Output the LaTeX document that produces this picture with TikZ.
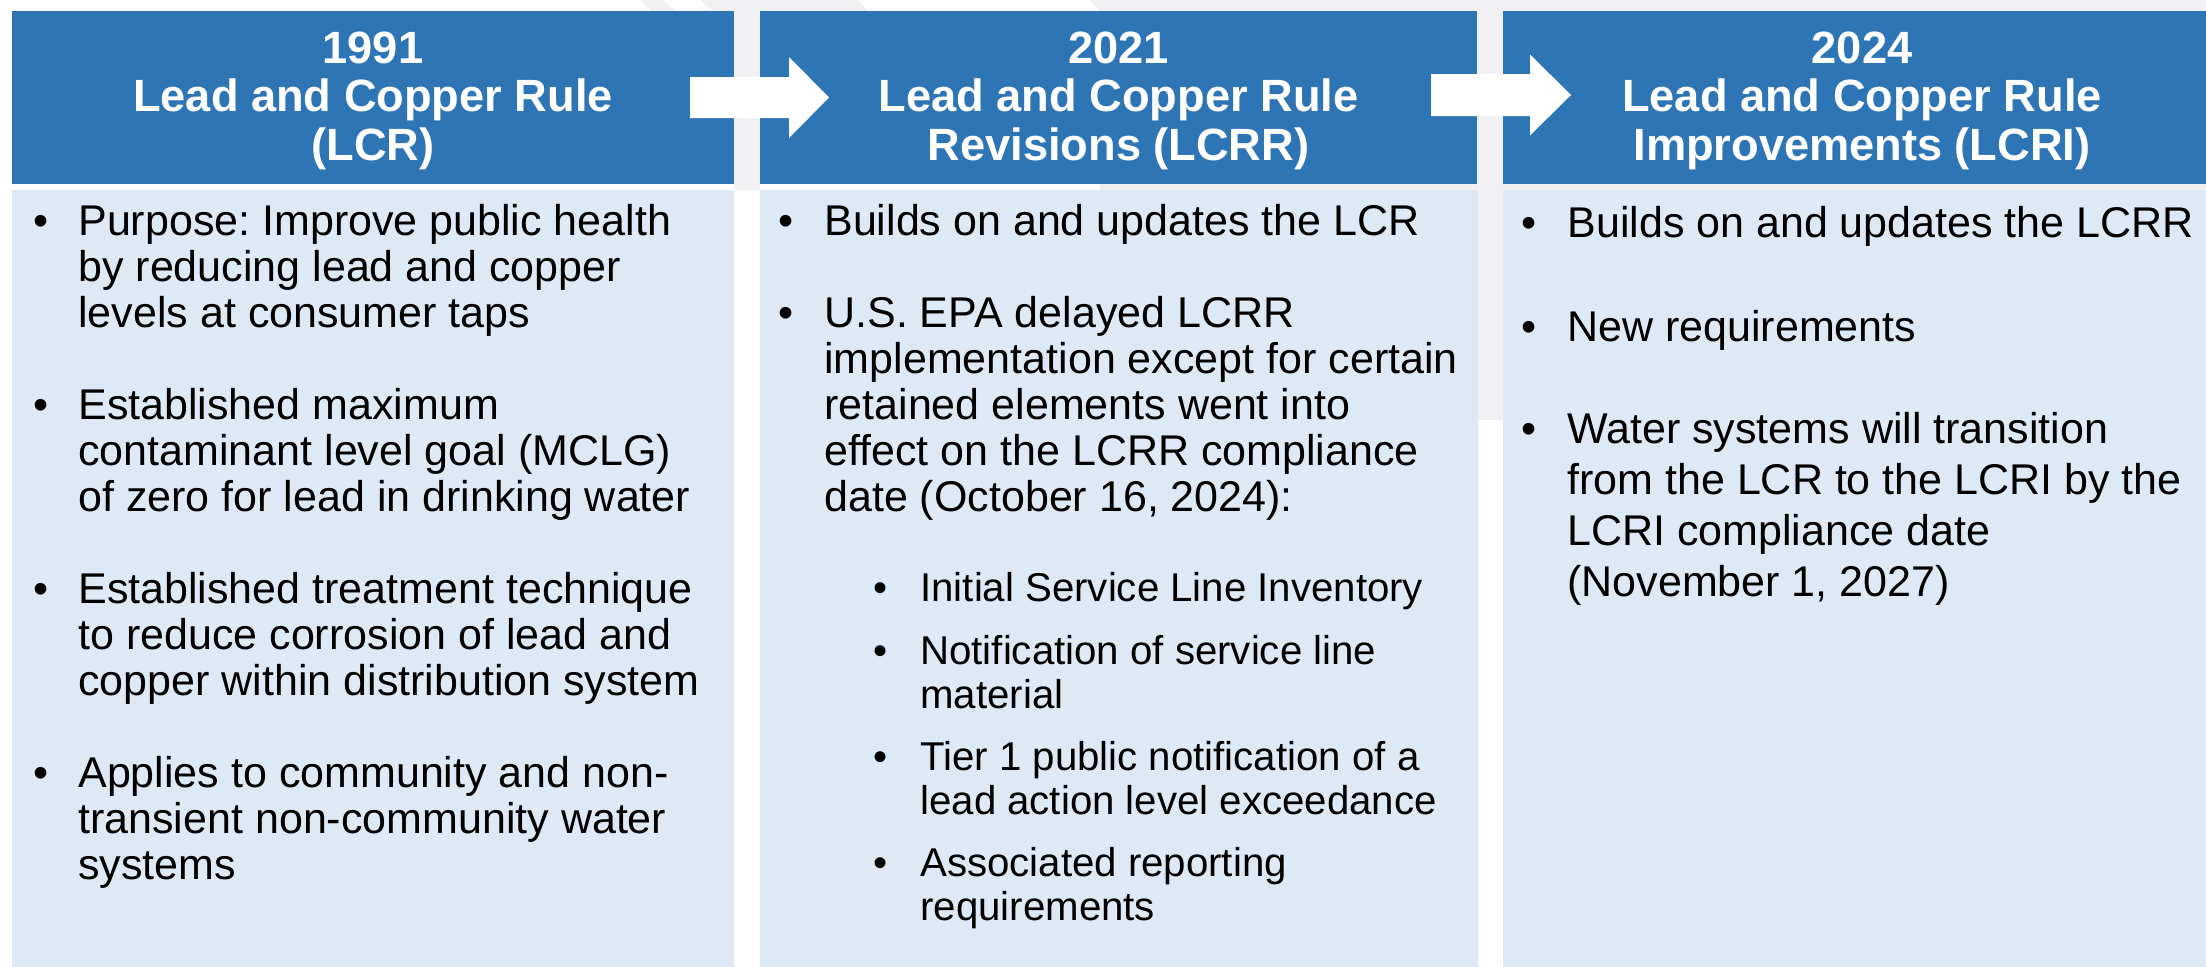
\documentclass[tikz,border=0pt]{standalone}
\usepackage{fontspec}
\setmainfont{Liberation Sans}
\frenchspacing
\definecolor{hdrblue}{HTML}{2E75B6}
\definecolor{bodyblue}{HTML}{DDE9F5}
\definecolor{wmgray}{HTML}{F1F1F3}
\tikzset{
  hdrbox/.style={fill=hdrblue, draw=none, inner sep=0pt, anchor=north west, minimum height=86.5pt},
  bodybox/.style={fill=bodyblue, draw=none, inner sep=0pt, anchor=north west, minimum height=395pt},
  hdrtext/.style={inner sep=0pt, anchor=base, text=white, font=\fontsize{22.6}{24.25}\selectfont\bfseries},
  bodytext/.style={inner sep=0pt, anchor=base west, text=black, font=\fontsize{21.5}{23}\selectfont},
  subtext/.style={inner sep=0pt, anchor=base west, text=black, font=\fontsize{20.1}{22.25}\selectfont},
  bulmark/.style={inner sep=0pt, anchor=base, text=black, font=\fontsize{21.5}{23}\selectfont},
  subbulmark/.style={inner sep=0pt, anchor=base, text=black, font=\fontsize{20.1}{22.25}\selectfont},
  blockarrow/.style={fill=white, draw=none}
}
\newcommand\lines[1]{\parbox[t]{330pt}{\raggedright #1}}
\begin{document}
\begin{tikzpicture}[x=0.5pt,y=-0.5pt]
\useasboundingbox (0,0) rectangle (2206,966);
\fill[white] (0,0) rectangle (2206,966);
% faint background watermark
\fill[wmgray] (640,0) -- (662,0) -- (676,11) -- (652,11) -- cycle;
\fill[wmgray] (700,0) -- (858,0) -- (868,11) -- (712,11) -- cycle;
\fill[wmgray] (1090,0) -- (2206,0) -- (2206,11) -- (1100,11) -- cycle;
\fill[wmgray] (1477,0) rectangle (1503,420);
\fill[wmgray] (734,0) rectangle (760,190);
\fill[wmgray] (1100,184) rectangle (2206,190);

% column boxes
\node[hdrbox, minimum width=361pt] (h1) at (12,11) {};
\node[hdrbox, minimum width=358.5pt] (h2) at (760,11) {};
\node[hdrbox, minimum width=359pt] (h3) at (1503,11) {};
\node[bodybox, minimum width=361pt] (b1) at (12,190) {};
\node[bodybox, minimum width=359pt] (b2) at (760,190) {};
\node[bodybox, minimum width=359pt] (b3) at (1503,190) {};

% header texts
\node[hdrtext] (t1) at (373,63) {\parbox[t]{340pt}{\centering 1991\\Lead and Copper Rule\\(LCR)}};
\node[hdrtext] (t2) at (1118.5,63) {\parbox[t]{340pt}{\centering 2021\\Lead and Copper Rule\\Revisions (LCRR)}};
\node[hdrtext] (t3) at (1862,63) {\parbox[t]{340pt}{\centering 2024\\Lead and Copper Rule\\Improvements (LCRI)}};

% block arrows between headers
\coordinate (a1) at (690,97.5);
\coordinate (a2) at (1431,95);
\fill[blockarrow] (a1) ++(0,-20.5) -- ++(99,0) -- ++(0,-20) -- ++(40,40.5) -- ++(-40,40.5) -- ++(0,-20) -- ++(-99,0) -- cycle;
\fill[blockarrow] (a2) ++(0,-21) -- ++(99,0) -- ++(0,-19.5) -- ++(41,40.5) -- ++(-41,40.5) -- ++(0,-19.5) -- ++(-99,0) -- cycle;

% column 1
\node[bulmark] (c1ab) at (41,235) {•};
\node[bodytext] (c1a) at (78,235) {\lines{Purpose: Improve public health\\by reducing lead and copper\\levels at consumer taps}};
\node[bulmark] (c1bb) at (41,419) {•};
\node[bodytext] (c1b) at (78,419) {\lines{Established maximum\\contaminant level goal (MCLG)\\of zero for lead in drinking water}};
\node[bulmark] (c1cb) at (41,603) {•};
\node[bodytext] (c1c) at (78,603) {\lines{Established treatment technique\\to reduce corrosion of lead and\\copper within distribution system}};
\node[bulmark] (c1db) at (41,787) {•};
\node[bodytext] (c1d) at (78,787) {\lines{Applies to community and non-\\transient non-community water\\systems}};

% column 2
\node[bulmark] (c2ab) at (786,235) {•};
\node[bodytext] (c2a) at (824,235) {\lines{Builds on and updates the LCR}};
\node[bulmark] (c2bb) at (786,327) {•};
\node[bodytext] (c2b) at (824,327) {\lines{\baselineskip=23.1pt U.S. EPA delayed LCRR\\implementation except for certain\\retained elements went into\\effect on the LCRR compliance\\date (October 16, 2024):}};
\node[subbulmark] (s1b) at (881,601) {•};
\node[subtext] (s1) at (920,601) {\lines{Initial Service Line Inventory}};
\node[subbulmark] (s2b) at (881,664) {•};
\node[subtext] (s2) at (920,664) {\lines{Notification of service line\\material}};
\node[subbulmark] (s3b) at (881,770) {•};
\node[subtext] (s3) at (920,770) {\lines{Tier 1 public notification of a\\lead action level exceedance}};
\node[subbulmark] (s4b) at (881,876) {•};
\node[subtext] (s4) at (920,876) {\lines{Associated reporting\\requirements}};

% column 3
\node[bulmark] (c3ab) at (1529,237) {•};
\node[bodytext] (c3a) at (1567,237) {\lines{Builds on and updates the LCRR}};
\node[bulmark] (c3bb) at (1529,341) {•};
\node[bodytext] (c3b) at (1567,341) {\lines{New requirements}};
\node[bulmark] (c3cb) at (1529,443) {•};
\node[bodytext] (c3c) at (1567,443) {\lines{\baselineskip=25.5pt Water systems will transition\\from the LCR to the LCRI by the\\LCRI compliance date\\(November 1, 2027)}};
\end{tikzpicture}
\end{document}
